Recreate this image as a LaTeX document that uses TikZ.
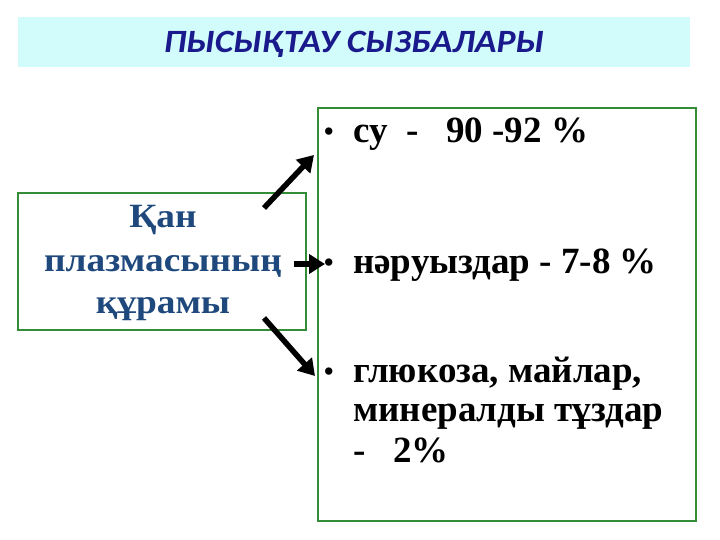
\documentclass[tikz,border=0pt]{standalone}
\usepackage{fontspec}
\usepackage{graphicx}
\setmainfont{Liberation Serif}
\newfontfamily\titlefont{Carlito}
\usetikzlibrary{arrows.meta}
\definecolor{titlebg}{RGB}{210,252,252}
\definecolor{titleblue}{RGB}{26,26,140}
\definecolor{boxgreen}{RGB}{52,140,52}
\definecolor{leftblue}{RGB}{31,73,125}
\tikzset{
  gbox/.style={draw=boxgreen, line width=2pt},
  bigarrow/.style={line width=5.5pt, -{Triangle[length=16pt,width=19pt]}, black},
  btext/.style={font=\fontsize{37}{40}\selectfont\bfseries, anchor=base west, inner sep=0pt},
  bullet/.style={font=\fontsize{27}{30}\selectfont\bfseries, anchor=base west, inner sep=0pt},
  ltext/.style={font=\fontsize{34}{42}\selectfont\bfseries, text=leftblue, anchor=base, inner sep=0pt},
}
\newcommand{\hs}[1]{\scalebox{1.1}[1]{#1}}
\begin{document}
\begin{tikzpicture}[x=1pt,y=-1pt]
\useasboundingbox (0,0) rectangle (720,540);
\fill[white] (0,0) rectangle (720,540);
% title
\fill[titlebg] (18,17) rectangle (690,67);
\node[font=\titlefont\fontsize{32.5}{34}\selectfont\bfseries\itshape, text=titleblue, inner sep=0pt, anchor=base] (title) at (354,53) {\scalebox{1.1}[1]{ПЫСЫҚТАУ СЫЗБАЛАРЫ}};
% left box
\draw[gbox] (18,193) rectangle (306,330);
\node[ltext] (l1) at (163,228) {\hs{Қан}};
\node[ltext] (l2) at (163,271) {\hs{плазмасының}};
\node[ltext] (l3) at (163,313) {\hs{құрамы}};
% right box
\draw[gbox] (318,108) rectangle (696,521);
\node[bullet] (b1) at (324,141) {•};
\node[btext] (t1) at (353,143) {су \ -\ \ \ 90 -92 \%};
\node[bullet] (b2) at (324,271) {•};
\node[btext] (t2) at (353,273) {нәруыздар - 7-8 \%};
\node[bullet] (b3) at (324,380) {•};
\node[btext] (t3a) at (353,382) {глюкоза, майлар,};
\node[btext] (t3b) at (353,421) {минералды тұздар};
\node[btext] (t3c) at (353,462) {- \ \ 2\%};
% arrows
\coordinate (a1s) at (264,208);
\coordinate (a1e) at (314,155);
\coordinate (a2s) at (294,264);
\coordinate (a2e) at (325,264);
\coordinate (a3s) at (264,318);
\coordinate (a3e) at (315,376);
\draw[bigarrow] (a1s) -- (a1e);
\draw[bigarrow] (a2s) -- (a2e);
\draw[bigarrow] (a3s) -- (a3e);
\end{tikzpicture}
\end{document}
